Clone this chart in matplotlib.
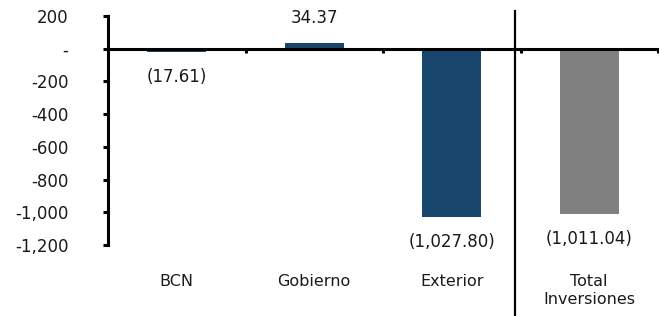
import matplotlib
matplotlib.use("Agg")
import matplotlib.pyplot as plt
import matplotlib.transforms as mtransforms

categorias = ["BCN", "Gobierno", "Exterior", "Total\nInversiones"]
valores = [-17.61, 34.37, -1027.80, -1011.04]
etiquetas = ["(17.61)", "34.37", "(1,027.80)", "(1,011.04)"]
colores = ["#17456b", "#17456b", "#17456b", "#808080"]
yticks = [200, 0, -200, -400, -600, -800, -1000, -1200]
yticklabels = ["200", "-", "-200", "-400", "-600", "-800", "-1,000", "-1,200"]

fig = plt.figure(figsize=(6.59, 3.16), dpi=100)
ax = fig.add_axes([108/659, 1 - 245/316, 550/659, 229/316])

x = range(len(categorias))
ax.bar(x, valores, width=0.43, color=colores)

ax.set_xlim(-0.5, 3.5)
ax.set_ylim(-1200, 200)

# ejes
for s in ["top", "right"]:
    ax.spines[s].set_visible(False)
ax.spines["left"].set_linewidth(2.2)
ax.spines["bottom"].set_linewidth(2.2)
ax.spines["bottom"].set_position(("data", 0))

ax.set_yticks(yticks)
ax.set_yticklabels(yticklabels, fontsize=12, color="#1a1a1a")
ax.tick_params(axis="y", direction="out", length=3.6, width=2.2, pad=25)
ax.set_xticks([-0.5, 0.5, 1.5, 2.5, 3.5])
ax.set_xticklabels([])
ax.tick_params(axis="x", direction="out", length=3, width=2.2)

# etiquetas de categorias
trans = mtransforms.blended_transform_factory(ax.transData, ax.transAxes)
for i, c in enumerate(categorias):
    ax.text(i, -0.125, c, transform=trans, ha="center", va="top",
            fontsize=11.5, linespacing=1.32, color="#1a1a1a")

# etiquetas de valores
for i, (v, t) in enumerate(zip(valores, etiquetas)):
    off = 18 if v > 0 else -18
    ax.annotate(t, (i, v), xytext=(0, off), textcoords="offset points",
                ha="center", va="center", fontsize=12, color="#1a1a1a")

# linea separadora
ax.axvline(2.46, ymin=-0.31, ymax=1.02, color="black", lw=1.6, clip_on=False)

fig.savefig("out.png", dpi=100)
